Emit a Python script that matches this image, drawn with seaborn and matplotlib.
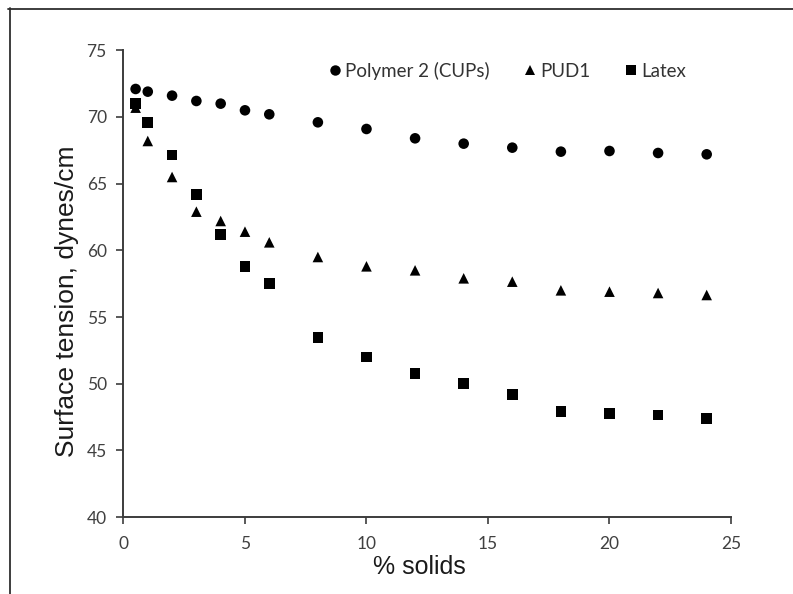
import matplotlib
matplotlib.use("Agg")
import matplotlib.pyplot as plt
from matplotlib.lines import Line2D
import seaborn as sns
import pandas as pd

# % solids at which each dispersion was measured
solids = [0.5, 1, 2, 3, 4, 5, 6, 8, 10, 12, 14, 16, 18, 20, 22, 24]

# Surface tension (dynes/cm) for each series
polymer2_cups = [72.1, 71.9, 71.6, 71.2, 71.0, 70.5, 70.2, 69.6, 69.1,
                 68.4, 68.0, 67.7, 67.4, 67.45, 67.3, 67.2]
pud1 = [70.7, 68.2, 65.5, 62.9, 62.2, 61.4, 60.6, 59.5, 58.8,
        58.5, 57.9, 57.65, 57.0, 56.9, 56.8, 56.65]
latex = [71.0, 69.6, 67.15, 64.2, 61.2, 58.8, 57.5, 53.45, 52.0,
         50.75, 50.0, 49.2, 47.9, 47.75, 47.65, 47.4]

series_names = ["Polymer 2 (CUPs)", "PUD1", "Latex"]
series_values = [polymer2_cups, pud1, latex]
series_markers = ["o", "^", "s"]

x_ticks = [0, 5, 10, 15, 20, 25]
y_ticks = [40, 45, 50, 55, 60, 65, 70, 75]

rows = []
for name, vals in zip(series_names, series_values):
    for x, y in zip(solids, vals):
        rows.append({"solids": x, "tension": y, "series": name})
df = pd.DataFrame(rows)

sns.set_style("ticks")
plt.rcParams["font.family"] = ["Lato", "DejaVu Sans"]

fig = plt.figure(figsize=(7.93, 5.94), dpi=100)
ax = fig.add_axes([0.1557, 0.1296, 0.9218 - 0.1557, 0.9153 - 0.1296])

sns.scatterplot(
    data=df, x="solids", y="tension", hue="series", style="series",
    hue_order=series_names, style_order=series_names,
    palette=["black"] * 3,
    markers=dict(zip(series_names, series_markers)),
    s=58, edgecolor="none", linewidth=0, ax=ax, legend=True,
)

ax.set_xlim(0, 25)
ax.set_ylim(40, 75)
ax.set_xticks(x_ticks)
ax.set_yticks(y_ticks)
sns.despine(ax=ax)

spine_col = "#3c3c3c"
for side in ("left", "bottom"):
    ax.spines[side].set_color(spine_col)
    ax.spines[side].set_linewidth(1.4)
ax.tick_params(axis="both", direction="out", length=5, width=1.2,
               color=spine_col, labelcolor="#404040", labelsize=12.5)
ax.tick_params(axis="x", pad=9)
ax.tick_params(axis="y", pad=7)

label_font = dict(family=["Liberation Sans", "DejaVu Sans"], color="#1a1a1a")
ax.set_xlabel("% solids", size=18, **label_font)
ax.set_ylabel("Surface tension, dynes/cm", size=19, **label_font)
ax.xaxis.set_label_coords(0.487, -0.082)
ax.yaxis.set_label_coords(-0.073, 0.462)

handles, labels = ax.get_legend_handles_labels()
for h in handles:
    h.set_markersize(7.5)
    h.set_markeredgewidth(0)
ax.legend(handles, labels, ncol=3, frameon=False, loc="upper left",
          bbox_to_anchor=(0.317, 1.0), fontsize=13.5, handletextpad=0.15,
          columnspacing=1.75, handlelength=0.8, labelcolor="#333333",
          borderaxespad=0.2)

# Outer border of the figure panel
frame_col = "#2e2e2e"
W, H = 793, 594
fig.add_artist(Line2D([10 / W, 10 / W], [0, 1 - 8 / H], color=frame_col, lw=1.3,
                      transform=fig.transFigure))
fig.add_artist(Line2D([8 / W, 1], [1 - 9 / H, 1 - 9 / H], color=frame_col, lw=1.3,
                      transform=fig.transFigure))

fig.savefig("out.png", dpi=100, facecolor="white")
